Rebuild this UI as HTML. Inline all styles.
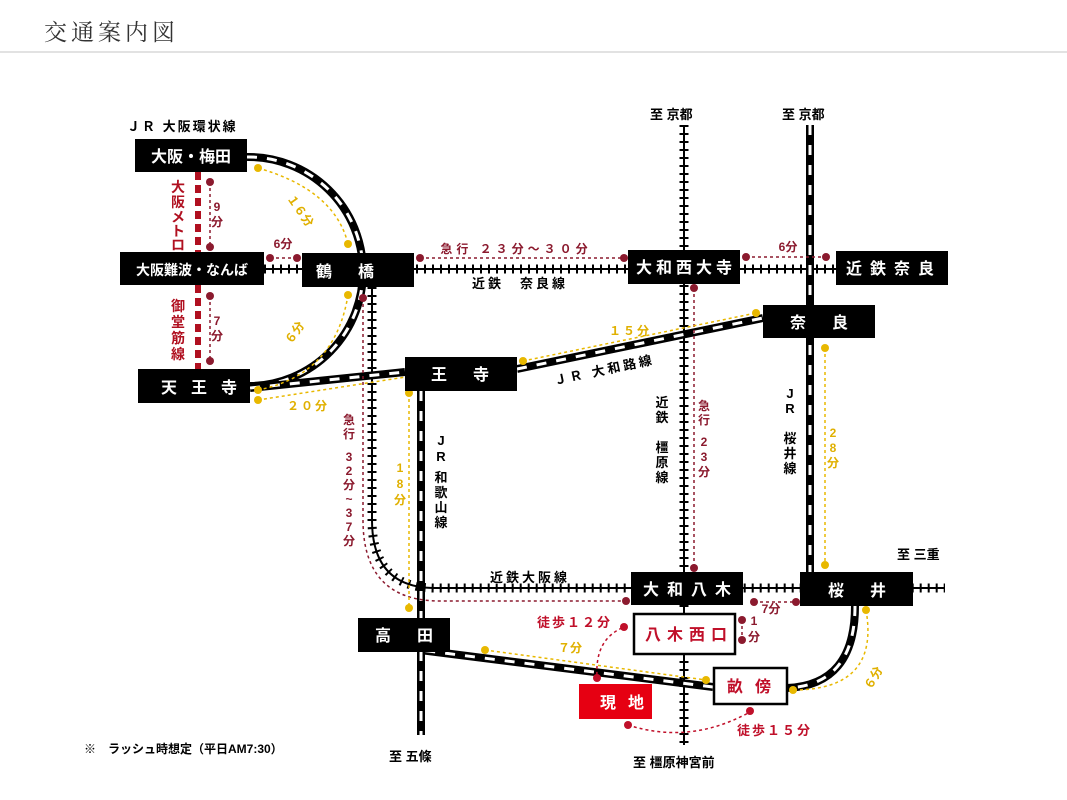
<!DOCTYPE html>
<html><head><meta charset="utf-8"><style>
html,body{margin:0;padding:0;background:#fff;}
svg{display:block;}
text{font-family:"Liberation Sans","Noto Sans CJK JP",sans-serif;}
</style></head><body>
<svg width="1067" height="800" viewBox="0 0 1067 800" xmlns="http://www.w3.org/2000/svg">
<text x="44" y="40" font-size="23" fill="#333" letter-spacing="4" style="font-family:'Noto Serif CJK SC',serif">交通案内図</text>
<line x1="0" y1="52" x2="1067" y2="52" stroke="#d8d8d8" stroke-width="1.5"/>

<!-- Kintetsu lines (ticked) -->
<g stroke="#000">
  <line x1="264" y1="269" x2="948" y2="269" stroke-width="2"/>
  <line x1="264" y1="269" x2="948" y2="269" stroke-width="9" stroke-dasharray="2 6"/>
  <line x1="684" y1="125" x2="684" y2="745" stroke-width="2"/>
  <line x1="684" y1="125" x2="684" y2="745" stroke-width="9" stroke-dasharray="2 6"/>
  <path d="M372 287 L372 520 Q372 588 435 588 L945 588" fill="none" stroke-width="2"/>
  <path d="M372 287 L372 520 Q372 588 435 588 L945 588" fill="none" stroke-width="9" stroke-dasharray="2 6"/>
</g>
<!-- Metro -->
<line x1="198" y1="172" x2="198" y2="252" stroke="#b01020" stroke-width="6" stroke-dasharray="8 5"/>
<line x1="198" y1="285" x2="198" y2="369" stroke="#b01020" stroke-width="6" stroke-dasharray="8 5"/>

<!-- JR lines -->
<g fill="none">
  <path d="M247 157 A113 113 0 0 1 250 386" stroke="#000" stroke-width="8"/>
  <path d="M247 157 A113 113 0 0 1 250 386" stroke="#fff" stroke-width="3" stroke-dasharray="10 10"/>
  <path d="M250 388 L405 372 M517 369 L763 318 M421 391 L421 735 M810 125 L810 572 M855 606 Q855 685 787 688 M713 687 L420 650" stroke="#000" stroke-width="8"/>
  <path d="M250 388 L405 372 M517 369 L763 318 M421 391 L421 735 M810 125 L810 572 M855 606 Q855 685 787 688 M713 687 L420 650" stroke="#fff" stroke-width="3" stroke-dasharray="10 10"/>
</g>

<!-- maroon connectors -->
<g stroke="#8b1a2e" stroke-width="1.5" fill="none" stroke-dasharray="3 3">
  <line x1="210" y1="182" x2="210" y2="247"/>
  <line x1="210" y1="296" x2="210" y2="361"/>
  <line x1="270" y1="258" x2="297" y2="258"/>
  <line x1="420" y1="258" x2="624" y2="258"/>
  <line x1="746" y1="257" x2="826" y2="257"/>
  <line x1="694" y1="288" x2="694" y2="568"/>
  <path d="M363 298 L363 520 Q363 601 440 601 L626 601"/>
  <line x1="754" y1="602" x2="796" y2="602"/>
  <line x1="742" y1="620" x2="742" y2="640"/>
</g>
<g stroke="#c0102a" stroke-width="1.5" fill="none" stroke-dasharray="3 3">
  <path d="M622 628 Q595 640 597 676"/>
<path d="M628 725 Q690 745 750 712"/>
</g>
<g fill="#8b1a2e">
  <circle cx="210" cy="182" r="4"/><circle cx="210" cy="247" r="4"/>
  <circle cx="210" cy="296" r="4"/><circle cx="210" cy="361" r="4"/>
  <circle cx="270" cy="258" r="4"/><circle cx="297" cy="258" r="4"/>
  <circle cx="420" cy="258" r="4"/><circle cx="624" cy="258" r="4"/>
  <circle cx="746" cy="257" r="4"/><circle cx="826" cy="257" r="4"/>
  <circle cx="694" cy="288" r="4"/><circle cx="694" cy="568" r="4"/>
  <circle cx="363" cy="298" r="4"/><circle cx="626" cy="601" r="4"/>
  <circle cx="754" cy="602" r="4"/><circle cx="796" cy="602" r="4"/>
  <circle cx="742" cy="620" r="4"/><circle cx="742" cy="640" r="4"/>
</g>
<g fill="#c0102a">
  <circle cx="624" cy="627" r="4"/><circle cx="597" cy="678" r="4"/>
  <circle cx="628" cy="725" r="4"/><circle cx="750" cy="711" r="4"/>
</g>

<!-- yellow connectors -->
<g stroke="#e8b800" stroke-width="1.5" fill="none" stroke-dasharray="3 3">
  <path d="M258 168 Q335 190 348 244"/>
  <path d="M348 295 Q335 375 258 390"/>
  <line x1="258" y1="400" x2="412" y2="376"/>
  <line x1="409" y1="393" x2="409" y2="608"/>
  <line x1="523" y1="361" x2="756" y2="313"/>
  <line x1="825" y1="348" x2="825" y2="565"/>
  <line x1="485" y1="650" x2="706" y2="680"/>
  <path d="M866 610 Q880 690 793 690"/>
</g>
<g fill="#e8b800">
  <circle cx="258" cy="168" r="4"/><circle cx="348" cy="244" r="4"/>
  <circle cx="348" cy="295" r="4"/><circle cx="258" cy="390" r="4"/>
  <circle cx="258" cy="400" r="4"/><circle cx="412" cy="376" r="4"/>
  <circle cx="409" cy="393" r="4"/><circle cx="409" cy="608" r="4"/>
  <circle cx="523" cy="361" r="4"/><circle cx="756" cy="313" r="4"/>
  <circle cx="825" cy="348" r="4"/><circle cx="825" cy="565" r="4"/>
  <circle cx="485" cy="650" r="4"/><circle cx="706" cy="680" r="4"/>
  <circle cx="866" cy="610" r="4"/><circle cx="793" cy="690" r="4"/>
</g>

<!-- black station boxes -->
<g fill="#000">
  <rect x="135" y="139" width="112" height="33"/>
  <rect x="120" y="252" width="144" height="33"/>
  <rect x="302" y="253" width="112" height="34"/>
  <rect x="138" y="369" width="112" height="34"/>
  <rect x="405" y="357" width="112" height="34"/>
  <rect x="628" y="250" width="112" height="34"/>
  <rect x="836" y="251" width="112" height="34"/>
  <rect x="763" y="305" width="112" height="33"/>
  <rect x="631" y="572" width="112" height="33"/>
  <rect x="800" y="572" width="113" height="34"/>
  <rect x="358" y="618" width="92" height="34"/>
</g>
<rect x="634" y="614" width="101" height="40" fill="#fff" stroke="#000" stroke-width="2.5"/>
<rect x="714" y="668" width="73" height="36" fill="#fff" stroke="#000" stroke-width="2.5"/>
<rect x="579" y="684" width="73" height="35" fill="#e60012"/>

<g fill="#fff" font-size="16" font-weight="bold" text-anchor="middle">
  <text x="191" y="162">大阪・梅田</text>
  <text x="192" y="275" font-size="14">大阪難波・なんば</text>
  <text x="358" y="277" letter-spacing="26">鶴橋</text>
  <text x="206" y="393" letter-spacing="14">天王寺</text>
  <text x="473" y="380" letter-spacing="26">王寺</text>
  <text x="686" y="273" letter-spacing="4">大和西大寺</text>
  <text x="894" y="274" letter-spacing="8">近鉄奈良</text>
  <text x="832" y="328" letter-spacing="26">奈良</text>
  <text x="691" y="595" letter-spacing="8">大和八木</text>
  <text x="870" y="596" letter-spacing="26">桜井</text>
  <text x="417" y="641" letter-spacing="26">高田</text>
  <text x="628" y="708" letter-spacing="12">現地</text>
</g>
<g fill="#c0102a" font-size="16" font-weight="bold" text-anchor="middle">
  <text x="689" y="640" letter-spacing="6">八木西口</text>
  <text x="755" y="692" letter-spacing="12">畝傍</text>
</g>

<!-- labels black -->
<g fill="#000" font-size="13" font-weight="bold">
  <text x="127" y="131" letter-spacing="2">ＪＲ 大阪環状線</text>
  <text x="472" y="288" letter-spacing="3">近鉄　奈良線</text>
  <text x="490" y="582" letter-spacing="3">近鉄大阪線</text>
  <text x="650" y="119">至 京都</text>
  <text x="782" y="119">至 京都</text>
  <text x="897" y="559">至 三重</text>
  <text x="389" y="761">至 五條</text>
  <text x="633" y="767">至 橿原神宮前</text>
  <text x="84" y="753" font-size="12">※　ラッシュ時想定（平日AM7:30）</text>
  <text transform="translate(555,385) rotate(-12)" letter-spacing="3">ＪＲ 大和路線</text>
</g>
<g fill="#000" font-size="13" font-weight="bold" text-anchor="middle">
  <text x="441" y="445">J</text><text x="441" y="461">R</text>
  <text x="441" y="482">和</text><text x="441" y="497">歌</text><text x="441" y="512">山</text><text x="441" y="527">線</text>
  <text x="662" y="407">近</text><text x="662" y="422">鉄</text>
  <text x="662" y="452">橿</text><text x="662" y="467">原</text><text x="662" y="482">線</text>
  <text x="790" y="398">J</text><text x="790" y="413">R</text>
  <text x="790" y="443">桜</text><text x="790" y="458">井</text><text x="790" y="473">線</text>
</g>
<!-- metro labels -->
<g fill="#b01020" font-size="14" font-weight="bold" text-anchor="middle">
  <text x="178" y="192">大</text><text x="178" y="207">阪</text><text x="178" y="222">メ</text><text x="178" y="236">ト</text><text x="178" y="250">ロ</text>
  <text x="178" y="311">御</text><text x="178" y="327">堂</text><text x="178" y="343">筋</text><text x="178" y="359">線</text>
</g>
<!-- maroon labels -->
<g fill="#8b1a2e" font-size="12" font-weight="bold" text-anchor="middle">
  <text x="217" y="211">9</text><text x="217" y="226">分</text>
  <text x="217" y="325">7</text><text x="217" y="340">分</text>
  <text x="283" y="248">6分</text>
  <text x="516" y="253" letter-spacing="4">急行 ２３分～３０分</text>
  <text x="788" y="251">6分</text>
  <text x="704" y="410">急</text><text x="704" y="424">行</text>
  <text x="704" y="446">2</text><text x="704" y="461">3</text><text x="704" y="476">分</text>
  <text x="349" y="424">急</text><text x="349" y="438">行</text>
  <text x="349" y="461">3</text><text x="349" y="475">2</text><text x="349" y="489">分</text><text x="349" y="503">~</text><text x="349" y="517">3</text><text x="349" y="531">7</text><text x="349" y="545">分</text>
  <text x="771" y="613">7分</text>
  <text x="754" y="625">1</text><text x="754" y="641">分</text>
</g>
<g fill="#c0102a" font-size="13" font-weight="bold">
  <text x="537" y="627" letter-spacing="2">徒歩１２分</text>
  <text x="737" y="735" letter-spacing="2">徒歩１５分</text>
</g>
<!-- yellow labels -->
<g fill="#e0b000" font-size="12" font-weight="bold" text-anchor="middle">
  <text transform="translate(297,213) rotate(55)">１６分</text>
  <text transform="translate(298,335) rotate(-55)">６分</text>
  <text x="308" y="410" letter-spacing="2">２０分</text>
  <text x="400" y="472">1</text><text x="400" y="488">8</text><text x="400" y="504">分</text>
  <text x="630" y="335" letter-spacing="2">１５分</text>
  <text x="833" y="437">2</text><text x="833" y="452">8</text><text x="833" y="467">分</text>
  <text x="570" y="652">７分</text>
  <text transform="translate(877,680) rotate(-60)">６分</text>
</g>
</svg>
</body></html>
